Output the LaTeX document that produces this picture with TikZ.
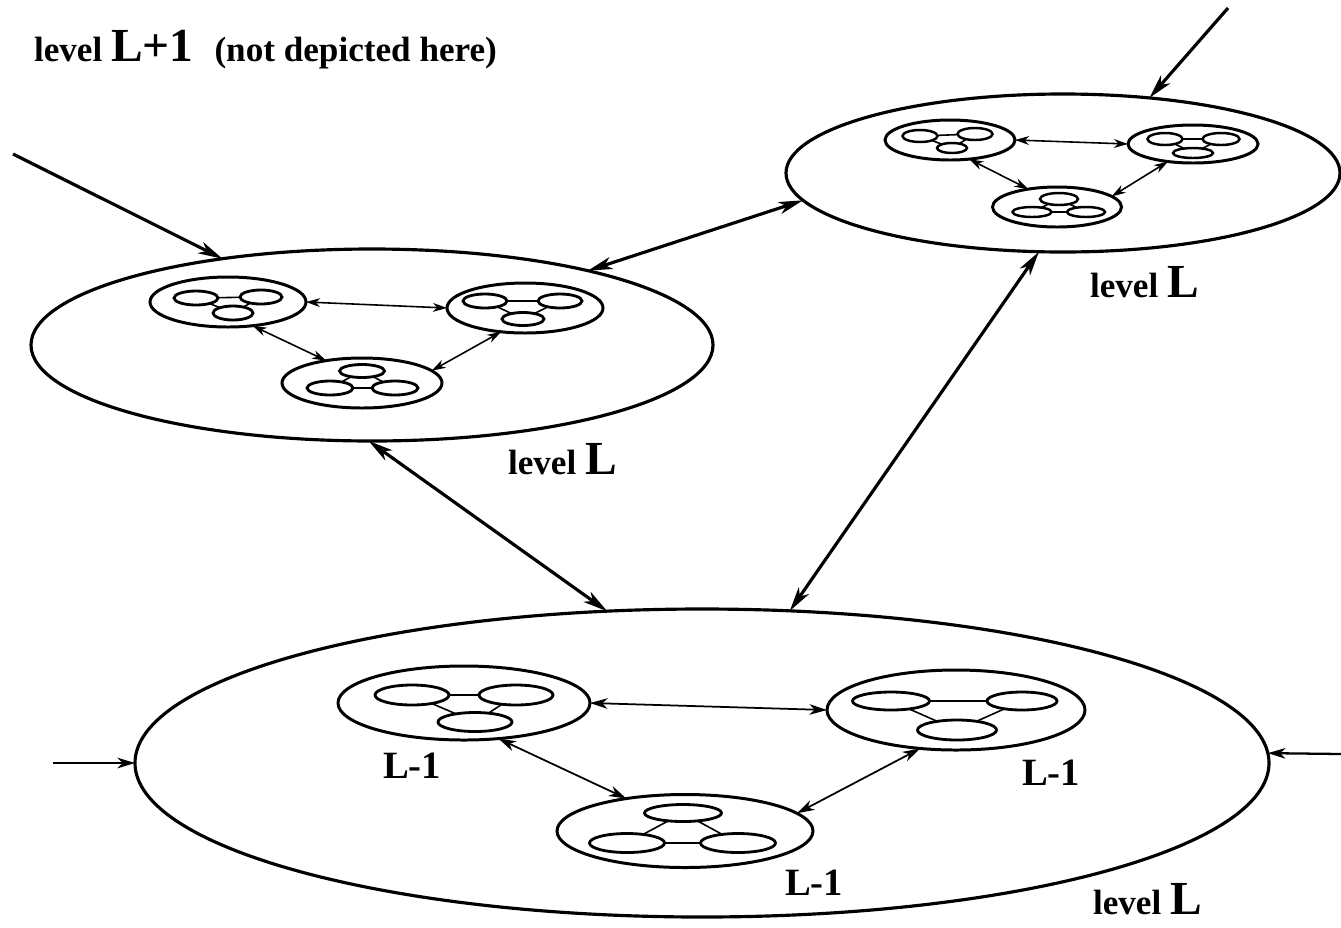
\documentclass[tikz,border=0pt]{standalone}
\usepackage{fontspec}
\setmainfont{Liberation Serif}
\usetikzlibrary{shapes.geometric,arrows.meta}
\newcommand\lvfnt{\fontsize{20}{24}\selectfont\bfseries}
\newcommand\bgfnt{\fontsize{27}{30}\selectfont\bfseries}
\newcommand\lmfnt{\fontsize{22}{26}\selectfont\bfseries}
\begin{document}
\begin{tikzpicture}[x=0.02cm,y=-0.02cm,
  sz/.style 2 args={minimum width=#1*0.02cm,minimum height=#2*0.02cm},
  bigell/.style={draw,ellipse,inner sep=0pt,outer sep=0pt,line width=1.8pt},
  clus/.style={draw,ellipse,inner sep=0pt,outer sep=0pt,line width=1.7pt},
  inr/.style={draw,ellipse,inner sep=0pt,outer sep=0pt,line width=1.6pt},
  inrs/.style={draw,ellipse,inner sep=0pt,outer sep=0pt,line width=1.4pt},
  ln/.style={line width=0.9pt},
  sarr/.style={line width=0.9pt,arrows={Stealth[length=8pt,width=5pt,inset=2.5pt]-Stealth[length=8pt,width=5pt,inset=2.5pt]}},
  marr/.style={line width=1pt,arrows={Stealth[length=10pt,width=6pt,inset=3pt]-Stealth[length=10pt,width=6pt,inset=3pt]}},
  barr/.style={line width=1.8pt,arrows={Stealth[length=14pt,width=7pt,inset=4pt]-Stealth[length=14pt,width=7pt,inset=4pt]}},
  inarr/.style={line width=1.8pt,arrows={-Stealth[length=14pt,width=7pt,inset=4pt]}},
  sarrow/.style={line width=1.3pt,arrows={-Stealth[length=10pt,width=6pt,inset=3pt]}},
  lbl/.style={inner sep=0pt,outer sep=0pt,anchor=base west}
]
\useasboundingbox (0,0) rectangle (1341,927);

% ---------- left ellipse (level L) ----------
\node[bigell,sz={682}{192}] (E1) at (372,345) {};
\node[clus,sz={156}{50}] (C11) at (228,302) {};
\node[inr,sz={44}{14}] (C11a) at (196,298) {};
\node[inr,sz={42}{14}] (C11b) at (261,297) {};
\node[inr,sz={40}{14}] (C11c) at (233,313) {};
\node[clus,sz={156}{50}] (C12) at (525,308) {};
\node[inr,sz={44}{14}] (C12a) at (485,301) {};
\node[inr,sz={44}{14}] (C12b) at (560,301) {};
\node[inr,sz={42}{13}] (C12c) at (523,319) {};
\node[clus,sz={160}{50}] (C13) at (362,383) {};
\node[inr,sz={45}{13}] (C13a) at (362,371) {};
\node[inr,sz={46}{14}] (C13b) at (330,388) {};
\node[inr,sz={46}{14}] (C13c) at (395,388) {};
\foreach \c in {C11,C12,C13}{
  \draw[ln] (\c a) -- (\c b);
  \draw[ln] (\c a) -- (\c c);
  \draw[ln] (\c b) -- (\c c);
}
\draw[sarr] (C11.east) -- (C12.west);
\draw[sarr] (C11.316) -- (C13.148);
\draw[sarr] (C12.225) -- (C13.10);

% ---------- top right ellipse (level L) ----------
\node[bigell,sz={554}{158}] (E2) at (1063,173) {};
\node[clus,sz={130}{40}] (C21) at (950,140) {};
\node[inrs,sz={35}{12}] (C21a) at (920,136) {};
\node[inrs,sz={35}{12}] (C21b) at (975,134) {};
\node[inrs,sz={30}{10}] (C21c) at (952,148) {};
\node[clus,sz={130}{38}] (C22) at (1193,144) {};
\node[inrs,sz={35}{12}] (C22a) at (1165,139) {};
\node[inrs,sz={37}{12}] (C22b) at (1221,139) {};
\node[inrs,sz={40}{10}] (C22c) at (1193,153) {};
\node[clus,sz={129}{40}] (C23) at (1057,207) {};
\node[inrs,sz={38}{12}] (C23a) at (1059,199) {};
\node[inrs,sz={39}{10}] (C23b) at (1032,212) {};
\node[inrs,sz={38}{10}] (C23c) at (1086,212) {};
\foreach \c in {C21,C22,C23}{
  \draw[ln] (\c a) -- (\c b);
  \draw[ln] (\c a) -- (\c c);
  \draw[ln] (\c b) -- (\c c);
}
\draw[sarr] (C21.east) -- (C22.west);
\draw[sarr] (C21.315) -- (C23.148);
\draw[sarr] (C22.215) -- (C23.11);

% ---------- bottom ellipse (level L) ----------
\node[bigell,sz={1134}{308}] (E3) at (702,763) {};
\node[clus,sz={252}{74}] (C31) at (464,703) {};
\node[inr,sz={74}{20}] (C31a) at (412,695) {};
\node[inr,sz={74}{20}] (C31b) at (516,695) {};
\node[inr,sz={74}{19}] (C31c) at (475,722) {};
\node[clus,sz={258}{80}] (C32) at (956,710) {};
\node[inr,sz={77}{18}] (C32a) at (891,701) {};
\node[inr,sz={70}{18}] (C32b) at (1022,701) {};
\node[inr,sz={79}{20}] (C32c) at (957,730) {};
\node[clus,sz={256}{73}] (C33) at (685,831) {};
\node[inr,sz={77}{17}] (C33a) at (683,813) {};
\node[inr,sz={75}{19}] (C33b) at (627,843) {};
\node[inr,sz={75}{19}] (C33c) at (738,843) {};
\foreach \c in {C31,C32,C33}{
  \draw[ln] (\c a) -- (\c b);
  \draw[ln] (\c a) -- (\c c);
  \draw[ln] (\c b) -- (\c c);
}
\draw[marr] (C31.east) -- (C32.west);
\draw[marr] (C31.314) -- (C33.151);
\draw[marr] (C32.227) -- (C33.9);

% ---------- connections between level-L ellipses ----------
\draw[barr] (E1.19) -- (E2.186);
\draw[barr] (E1.268) -- (E3.122);
\draw[barr] (E2.253) -- (E3.60);

% ---------- incoming arrows ----------
\coordinate (tl) at (13,154);
\coordinate (tr) at (1228,8);
\coordinate (ml) at (53,763);
\coordinate (mr) at (1341,754);
\draw[inarr] (tl) -- (E1.150);
\draw[inarr] (tr) -- (E2.41);
\draw[sarrow] (ml) -- (E3.west);
\draw[sarrow] (mr) -- (E3.1);

% ---------- labels ----------
\node[lbl] (title) at (34,61) {\lvfnt level {\bgfnt L+1}\hspace{12pt}(not depicted here)};
\node[lbl] (labE2) at (1090,297) {\lvfnt level {\bgfnt L}};
\node[lbl] (labE1) at (508,474) {\lvfnt level {\bgfnt L}};
\node[lbl] (labE3) at (1093,914) {\lvfnt level {\bgfnt L}};
\node[lbl] (labC31) at (383,778) {\lmfnt L-1};
\node[lbl] (labC32) at (1022,785) {\lmfnt L-1};
\node[lbl] (labC33) at (785,895) {\lmfnt L-1};
\end{tikzpicture}
\end{document}
